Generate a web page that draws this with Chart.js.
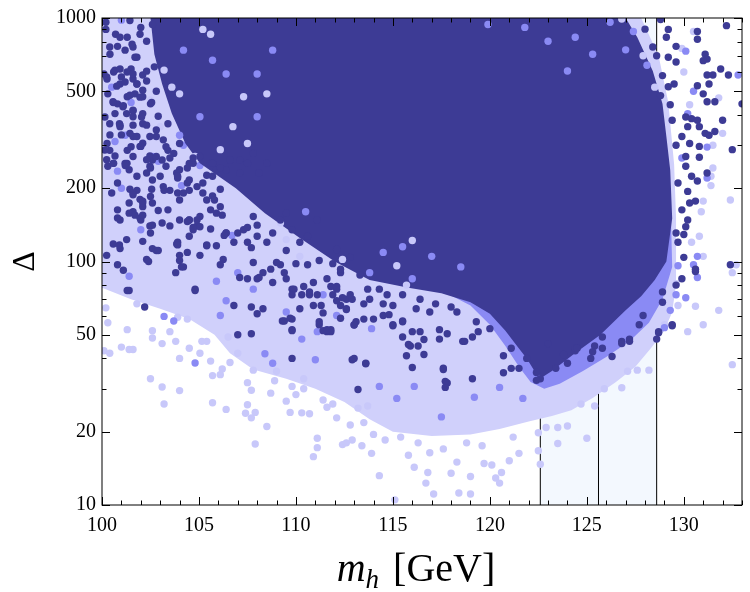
<!DOCTYPE html>
<html>
<head>
<meta charset="utf-8">
<script src="https://cdn.jsdelivr.net/npm/chart.js@4.4.1/dist/chart.umd.min.js"></script>
<style>
  html, body { margin: 0; background: #fff; }
  #wrap { width: 750px; height: 592px; }
</style>
</head>
<body>
<div id="wrap"><canvas id="myChart"></canvas></div>
<script>
// axis ticks
const xTicks = [100, 105, 110, 115, 120, 125, 130]
const yTicks = [10, 20, 50, 100, 200, 500, 1000]
const yMinor = [30, 40, 60, 70, 80, 90, 300, 400, 600, 700, 800, 900]
const xRange = [100, 133]

// higgs mass window and its lines
const massBand = [122.6, 128.6]
const massLines = [122.6, 125.6, 128.6]

// outline of the area where dark points cover everything  [mh, Delta]
const darkEdge = [
  [102.5,1000],[102.7,710],[103.1,536],[103.6,405],[104.3,305],[105.05,253],[106.9,200],[108.4,158],
  [110.2,125],[112.0,100],[113.8,84],[115.8,78],[117.5,74],[119.0,68],[120.0,61],[120.8,52],[121.4,45],
  [121.9,40],[122.3,35.5],[122.7,33.5],[123.2,35.5],[124.3,41.5],[125.7,50],[127.0,63],[127.8,72],
  [128.5,84],[129.1,100],[129.4,150],[129.3,237],[129.1,326],[128.9,444],[128.4,606],[127.6,833],
  [127.0,1000]
]
// outline of the medium band under the dark cloud
const midEdge = [
  [113.5,200],[113.0,150],[113.3,100],[115.0,84],[117.5,76],[119.0,66],[120.0,55],[120.8,45],[121.5,37],
  [122.1,32],[122.8,30],[123.6,31.5],[124.8,35.5],[126.0,40.5],[127.2,47],[128.2,56],[128.9,70],[129.4,95],[129.3,200]
]
// outline of the dense light cloud
const lightEdge = [
  [100,1000],[100,78],[101.5,70],[103,64],[104.5,58],[105.8,50],[106.6,42],[107.8,36],[109.5,33],[111,30],
  [112.5,26.5],[113.8,22.5],[115,20],[117,19.2],[119,19.5],[120.5,20.5],[122,22],[123.2,23.2],[124.2,24.5],
  [125.3,27.5],[126.5,32],[127.5,37],[128.3,44],[129.0,52],[129.4,62],[129.6,80],[129.6,110],[129.6,150],
  [129.5,250],[129.2,450],[128.7,700],[127.8,1000]
]

// single points outside the solid clouds
const darkPts = [
  [100.2,898],[100.7,857],[100.4,760],[100.8,765],[101.3,833],[101.6,760],[102.0,915],[102.3,803],[102.6,941],
  [100.1,589],[100.6,600],[101.0,573],[101.5,617],[101.8,536],[102.3,551],
  [101.3,475],[100.8,444],[100.3,488],[101.6,416],[102.5,444],[102.8,500],
  [100.4,368],[100.9,368],[101.6,326],[102.1,368],[102.8,326],[103.4,368],
  [100.4,286],[101.3,286],[102.0,297],[102.6,261],[103.4,286],[104.0,305],
  [100.3,246],[100.8,210],[101.4,238],[101.8,196],[102.3,231],[103.0,224],[103.5,196],[104.0,238],[104.7,253],
  [100.8,163],[101.4,174],[102.0,148],[102.6,174],[103.4,163],[104.0,179],[104.5,196],
  [105.2,210],[105.7,224],[106.4,238],[107.1,261],[107.8,278],
  [100.2,960],[101.7,690],[102.7,630],[102.9,395],
  [101.44,977],[101.96,857],[100.93,833],[101.55,780],[100.41,710],[101.19,738],[101.8,690],[100.67,611],
  [101.29,600],[102.1,583],[100.26,562],[100.93,536],[101.6,562],[101.7,488],[100.57,453],[101.08,432],
  [102.1,475],[101.6,393],[100.93,358],[102.1,405],[101.44,336],[100.26,305],[100.67,271],[101.96,297],
  [102.47,271],[101.29,253],
  [100.24,573],[100.93,617],[101.6,589],[102.3,605],[100.76,525],[101.19,546],[101.8,536],[102.1,505],
  [101.44,482],[101.96,473],[100.58,450],[102.56,450],[101.1,436],[101.6,418],[100.15,392],[100.67,405],
  [101.27,405],[102.04,392],[100.93,363],[101.6,363],[102.3,363],[102.8,347],[100.41,331],[101.0,331],
  [101.8,326],[102.47,326],[103.16,316],[102.1,306],[101.5,296],[100.15,287],[103.3,296],[103.7,278],
  [102.8,270],[102.3,262],[101.19,253],[100.58,253],[100.24,262],[103.3,246],[103.85,231],[104.5,253],
  [105.05,270],[105.6,253],[105.9,238],[102.47,246],[101.8,224],[102.6,216],[103.9,220],[104.4,210],
  [103.16,203],[104.9,203],[105.2,191],[105.7,186],[106.1,198],[101.44,198],[101.96,180],[102.56,198],
  [101.6,160],[102.1,168],[102.9,162],[100.93,148],[101.96,151],[104.0,148],[104.5,148],[105.05,153],
  [105.6,163],[106.1,168],[102.47,140],[103.5,140],[104.9,140],[105.6,136],[106.4,131],[100.58,118],
  [101.27,123],[102.1,121],[102.6,113],[103.85,118],[104.5,127],[105.9,116],[100.24,106],[100.93,113],
  [102.3,102],[104.0,106],[105.05,106],[106.25,102],
  [100.6,253],[101.2,248],[101.6,270],[102.5,242],[103.1,261],[103.5,266],[103.9,224],[104.4,242],[104.5,216],
  [105.4,226],[104.7,266],[105.7,253],[106.1,242],[106.6,261],[107.1,231],[107.5,253],[108.1,231],[108.5,253],
  [101.6,191],[102.1,174],[102.5,185],[101.4,158],[101.7,155],[102.1,155],[102.6,141],[102.5,131],[103.1,144],
  [103.2,196],[103.9,191],[104.2,191],[104.5,148],[104.9,148],[105.05,139],[104.7,135],[105.4,179],[105.8,179],
  [105.9,158],[106.2,155],[106.4,131],[107.0,131],[107.3,135],[106.8,120],[107.5,120],[107.8,153],[108.0,127],
  [108.5,120],[108.8,131],[109.2,148],[109.5,158],[109.8,135],[110.2,120],[110.6,127],[111.1,148],
  [100.9,117],[100.8,97],[102.4,100],[102.8,111],[103.9,120],[104.4,109],
  [104.0,101],[104.1,95],[103.8,90],[104.8,77],[105.4,116],[106.1,97],[107.5,85],[108.0,85],[108.3,90],
  [108.7,93],[109.2,97],[109.5,85],[110.0,98],[110.6,97],[111.2,101],[111.9,98],[112.3,90],[111.6,85],
  [110.4,79],[109.8,77],[110.7,73],[111.1,73],[112.1,77],[112.6,70],[112.3,66],[101.4,76],[102.2,65],
  [106.8,66],[107.7,65],[108.3,64],[109.3,57],[109.8,58],[111.2,55],[111.8,51.5],[107.0,50],[107.7,50.5],
  [108.8,82],[110.2,64],[110.9,66],
  [100.5,191],[101.6,188],[102.1,177],[100.8,151],[102.9,111],[104.4,146],[104.7,138],
  [103.9,117],[105.4,117],[106.3,128],[107.7,114],[107.5,138],[108.0,141],[109.5,111],[109.0,99],
  [107.8,99],[107.1,86],[108.1,86],[109.4,90],[109.9,77],[110.9,82],[111.8,79],[111.9,73],[112.9,70],
  [113.7,77],[114.3,77],[114.7,73],[115.0,66],[114.5,60],[115.0,55],[113.1,56.6],[111.6,51.5],
  [111.2,56.6],[109.8,52.5],[104.8,76],[104.2,95],[101.1,92],[101.3,76],[111.3,66],[112.6,64],[112.3,58.5],
  [112.1,112],[112.8,104],[112.3,93],[113.3,88],[112.1,79],[112.8,73],[113.8,70],[114.5,67],[113.5,67],
  [115.5,73],[116.2,64],[116.9,62],[118.3,62],[119.3,56.6],[120.0,53],[116.4,70],[117.2,67],[118.0,65],
  [112.9,39.5],[113.6,38],[111.8,52.5],[113.0,54.8],[113.5,58],[114.0,58],[115.0,54.5],[115.5,49],[115.9,45],
  [116.3,45],[116.6,41.5],[115.7,41],[116.0,36.7],[117.4,52.5],[117.8,50.5],[118.6,47],[119.1,49],[117.6,36.5],
  [117.8,31.7],[117.7,30.4],[119.1,33],[120.7,41],[120.7,34.9],[121.1,36.4],[121.5,36.4],[122.6,33],[122.4,35],
  [123.0,46],[123.4,36.4],[124.0,38.2],[124.4,43],[123.8,41.5],[121.9,40],[114.8,60.5],[115.5,57],[116.0,51.5],
  [116.4,51.5],[116.6,47.8],[117.6,36],[117.7,32.2],[122.4,32.5],[115.8,45.6],[115.5,56.6],[117.4,48],[118.7,47],
  [119.4,51.5],[121.1,44],[124.4,44],[125.4,45],[125.8,49],[126.8,47],[127.2,48],[128.6,48],[128.7,51],
  [129.4,54.5],[128.9,68],[108.0,61],[109.4,57],[109.7,58.5],[109.8,52],[109.8,40],[109.8,73],
  [110.3,73],[110.7,75],[111.4,61.5],[111.4,52],[111.6,52.5],[112.1,69],[112.4,71],[112.6,63.5],[113.0,55],
  [113.0,40],[113.6,38.2],[113.2,29.8],
  [130.8,268],[131.2,231],[130.2,194],[130.6,177],[130.1,139],[130.0,129],[129.7,120],[130.0,104],[132.4,97],
  [130.6,91],[129.9,85],[129.6,80],[128.9,75],[129.4,55],[128.7,51.5],[127.9,60],[127.7,55],[127.2,47],
  [126.8,46],[126.3,40.7],[125.8,44],[125.3,42.6],[125.2,40],[124.5,44],
  [128.8,986],[129.2,898],[129.1,833],[129.6,765],[129.2,690],[129.6,660],[130.7,880],[130.7,818],[132.2,930],
  [131.1,710],[131.2,678],[131.0,668],[131.9,617],[132.3,583],[131.2,583],[131.5,583],[130.7,527],[131.3,536],
  [131.0,488],[131.2,453],[131.6,453],[133.0,444],[129.5,536],[129.2,522],[130.1,392],[130.4,386],[130.7,380],
  [132.0,380],[130.2,358],[130.8,358],[131.1,336],[131.3,330],[131.6,342],[129.9,326],[130.3,305],[130.8,297],
  [132.5,288],[130.1,270],[130.1,246],[130.4,224],[130.7,214],[130.3,174],[129.9,163],[130.2,148],
  [130.6,93],[129.6,131],
  [128.0,900],[128.4,760],[128.6,700],[128.9,580],[128.8,480],[129.3,440],[129.4,380],[129.6,300],[129.7,210]
]
// medium and light points showing through the gaps of the dark cloud
const gapMidPts = [
  [104.2,738],[105.7,671],[108.0,589],[108.8,738],[105.05,393],[106.4,589],[108.0,393],[119.9,941],[121.8,915],
  [123.0,803],[124.4,833],[125.3,710],[124.0,606],[115.5,115],[117.0,105],[118.5,95],[116.0,85],[114.5,109],
  [113.8,90],[127.0,740],[110.5,160],[104.0,330],[126.2,960],[127.4,880],[128.1,640]
]
const gapLightPts = [
  [105.2,898],[103.2,611],[104.0,488],[107.3,475],[106.75,358],[106.1,288],[107.5,305],[103.0,358],[102.5,461],
  [105.6,857],[108.5,488],[109.2,144],[109.5,123],[110.2,105],[112.4,102],[115.2,96],[115.7,80],[116.0,122],
  [104.8,270],[103.6,520],[126.8,990],[127.9,700],[128.5,520]
]
const midPts = [
  [100.8,235],[102.6,270],[104.1,205],[105.05,248],[102.0,135],[106.7,128],[101.4,87],[105.9,83],[107.0,90],
  [107.8,77],[109.5,62],[111.4,73],[112.1,60],[103.2,59.5],[103.7,57],[106.1,60],[106.4,69],[104.8,38.3],
  [108.4,41.8],[108.8,38.2],[110.3,48],[111.0,39.5],[111.1,51.5],[113.9,53],[115.2,27.4],[117.5,23],
  [119.2,27.7],[121.7,27.4],[120.5,30.4],[114.3,30.7],[116.1,30.7],[131.2,220],[130.7,105],[130.5,97],
  [130.7,86],[130.1,71],[129.6,73],[129.3,63],[129.7,96],[129.0,53.5],[130.1,731],[130.5,500],[130.2,405],
  [131.2,295],[129.9,266],[132.8,583],[101.0,980],[100.5,520],[101.2,330],
  [101.5,450],[102.9,258],[100.67,311],[104.2,300],[101.0,200]
]
const lightPts = [
  [100.2,64.5],[100.3,56],[100.1,43],[100.4,42],[101.0,44.5],[101.3,52.5],[101.4,43.5],[101.6,43.5],[101.8,67],
  [102.5,33],[102.6,52],[102.6,48.5],[103.1,30.5],[103.1,46],[103.2,26],[103.5,51.5],[103.8,47],[104.0,40],
  [104.0,29.5],[103.9,59],[104.4,58],[104.5,44],[105.05,42],[105.15,47],[105.4,47],[105.6,39],[105.7,34],
  [105.7,26.3],[106.1,34.3],[106.2,36.2],[106.4,24.7],[106.5,49],[106.6,38.5],[107.0,42],[107.4,23.8],
  [107.5,25.8],[107.7,22.8],[107.9,17.8],[107.7,29.6],[107.9,24],[107.5,31.8],[107.8,35.8],[108.5,21],
  [108.7,28.8],[108.9,32.4],[109.0,35.4],[109.5,26.7],[109.7,24],[109.8,30.7],[110.0,28.4],[110.3,23.9],
  [110.4,33],[110.4,30],[110.7,23.7],[110.9,15.8],[111.1,17.2],[111.1,18.8],[111.4,27],[111.6,25.2],
  [111.9,26],[112.1,22.8],[112.4,17.7],[112.6,18],[112.8,21.3],[113.2,25],[113.5,21.8],[113.7,25.5],
  [113.9,16.3],[112.9,18.5],[115.1,10.5],[116.7,12.3],[117.1,11.1],[118.4,11.2],[119.0,11.1],[114.3,13.2],
  [115.8,16],[116.1,14.3],[116.8,13.6],[116.9,16.4],[118.3,15],[119.0,13.1],[119.7,14.8],[120.1,14.6],
  [120.3,12.9],[120.5,12.3],[120.6,13.6],[121.0,15.2],[121.5,16.3],[122.6,14.7],[122.5,16.7],[123.5,17.9],
  [125.0,18.8],[122.5,19.8],[122.9,20.8],[123.5,20.8],[124.0,21.1],[124.7,26],[125.4,25.5],[125.9,30],
  [126.8,30.3],[127.1,35.4],[127.6,35.8],[128.2,35.8],[132.5,37.7],[130.2,51.5],[131.0,55],[130.6,65.5],
  [131.8,63],[129.7,66],[129.0,55],[114.6,18.5],[115.4,19],[116.3,18],[117.6,17],[118.8,18],[119.6,17.5],
  [121.2,19],[118.0,13.5],[113.4,17.5],[114.0,19.5],
  [131.5,242],[131.4,205],[132.4,179],[131.0,177],[130.9,160],[130.8,127],[130.4,120],[131.0,105],[132.5,90],
  [129.6,81],[132.7,97],[132.0,336],[131.5,300],[131.4,224],[129.9,750],[130.5,880],[130.0,600],[131.8,470],
  [130.3,440]
]

const DARK = '#3d3b95'
const MID = '#8a8af4'
const LIGHT = '#c8c8fa'

const toXY = pts => pts.map(([x, y]) => ({ x: x, y: y }))

function dots(pts, color, order) {
  return {
    type: 'scatter', data: toXY(pts), order: order, clip: 0,
    backgroundColor: color, pointRadius: 3.7, pointBorderWidth: 0, pointHoverRadius: 3.7
  }
}
function patch(pts, color, order) {
  return {
    type: 'line', data: toXY(pts), order: order, clip: 0, fill: 'shape',
    backgroundColor: color, borderWidth: 0, borderColor: color, pointRadius: 0, tension: 0
  }
}

const lo = yTicks[0], hi = yTicks[yTicks.length - 1]
const bandPts = [[massBand[0], lo], [massBand[1], lo], [massBand[1], hi], [massBand[0], hi]]

const datasets = [
  dots(darkPts, DARK, 0),
  dots(gapLightPts, LIGHT, 0.5),
  dots(gapMidPts, MID, 0.6),
  patch(darkEdge, DARK, 1),
  dots(midPts, MID, 2),
  patch(midEdge, MID, 3),
  dots(lightPts, LIGHT, 4),
  patch(lightEdge, '#d0d0fb', 5)
]
massLines.forEach(m => {
  datasets.push({
    type: 'line', data: [{ x: m, y: lo }, { x: m, y: hi }], order: 6, clip: 0,
    borderColor: '#000', borderWidth: 1, pointRadius: 0, fill: false
  })
})
datasets.push(patch(bandPts, '#f3f8fe', 7))

// frame with inward ticks on all four sides, and the axis titles
const frameTicks = {
  id: 'frameTicks',
  afterDraw(chart) {
    const { ctx, chartArea: a, scales: { x, y } } = chart
    ctx.save()
    ctx.strokeStyle = '#000'
    ctx.lineWidth = 1
    ctx.strokeRect(a.left, a.top, a.right - a.left, a.bottom - a.top)
    ctx.beginPath()
    for (let v = xRange[0]; v <= xRange[1]; v++) {
      const px = Math.round(x.getPixelForValue(v)) + 0.5
      const len = xTicks.includes(v) ? 8 : 4.5
      ctx.moveTo(px, a.bottom); ctx.lineTo(px, a.bottom - len)
      ctx.moveTo(px, a.top); ctx.lineTo(px, a.top + len)
    }
    yTicks.concat(yMinor).forEach(v => {
      const py = Math.round(y.getPixelForValue(v)) + 0.5
      const len = yTicks.includes(v) ? 8 : 4.5
      ctx.moveTo(a.left, py); ctx.lineTo(a.left + len, py)
      ctx.moveTo(a.right, py); ctx.lineTo(a.right - len, py)
    })
    ctx.stroke()

    ctx.fillStyle = '#000'
    // y title
    ctx.save()
    ctx.translate(26, (a.top + a.bottom) / 2)
    ctx.rotate(-Math.PI / 2)
    ctx.font = '32px "Liberation Serif"'
    ctx.textAlign = 'center'
    ctx.textBaseline = 'middle'
    ctx.fillText('Δ', 0, 0)
    ctx.restore()

    // x title: m_h [GeV]
    const big = 'italic 40px "Liberation Serif"'
    const sub = 'italic 27px "Liberation Serif"'
    const reg = '40px "Liberation Serif"'
    ctx.textBaseline = 'alphabetic'
    ctx.textAlign = 'left'
    ctx.font = big; const wm = ctx.measureText('m').width
    ctx.font = sub; const wh = ctx.measureText('h').width
    ctx.font = reg; const wg = ctx.measureText(' [GeV]').width
    const total = wm + wh + 4 + wg
    let px = (a.left + a.right) / 2 - 6 - total / 2
    const base = 581
    ctx.font = big; ctx.fillText('m', px, base); px += wm
    ctx.font = sub; ctx.fillText('h', px, base + 7); px += wh + 4
    ctx.font = reg; ctx.fillText(' [GeV]', px, base)
    ctx.restore()
  }
}

const tickFont = { family: '"Liberation Serif"', size: 20 }

new Chart(document.getElementById('myChart'), {
  type: 'scatter',
  data: { datasets: datasets },
  options: {
    responsive: true,
    maintainAspectRatio: false,
    animation: false,
    events: [],
    layout: { padding: { top: 13, right: 8, left: 0, bottom: 0 } },
    plugins: { legend: { display: false }, tooltip: { enabled: false } },
    scales: {
      x: {
        type: 'linear', min: xRange[0], max: xRange[1],
        grid: { display: false, drawTicks: false },
        border: { display: false },
        afterBuildTicks: s => { s.ticks = xTicks.map(v => ({ value: v })) },
        afterFit: s => { s.height = 87 },
        ticks: { font: tickFont, color: '#000', padding: 9, maxRotation: 0, callback: v => String(v) }
      },
      y: {
        type: 'logarithmic', min: lo, max: hi,
        grid: { display: false, drawTicks: false },
        border: { display: false },
        afterBuildTicks: s => { s.ticks = yTicks.map(v => ({ value: v })) },
        afterFit: s => { s.width = 102 },
        ticks: { font: tickFont, color: '#000', padding: 6, callback: v => String(v) }
      }
    }
  },
  plugins: [frameTicks]
})
</script>
</body>
</html>
